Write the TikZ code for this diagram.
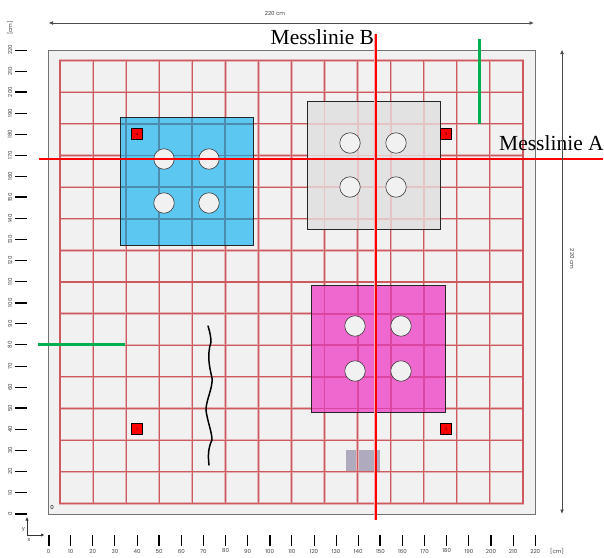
\documentclass[tikz,border=0pt]{standalone}
\usepackage{fontspec}
\setmainfont{Liberation Serif}
\newfontfamily\tick{Poppins}
\usetikzlibrary{arrows.meta}
\definecolor{gridred}{RGB}{204,90,95}
\definecolor{gridhalo}{RGB}{228,178,180}
\definecolor{plate}{RGB}{241,241,241}
\definecolor{bluep}{RGB}{92,200,242}
\definecolor{grayp}{RGB}{226,226,226}
\definecolor{pinkp}{RGB}{238,104,208}
\definecolor{greenl}{RGB}{0,176,80}
\definecolor{gridblue}{RGB}{76,140,175}
\definecolor{gridgray}{RGB}{228,196,196}
\definecolor{gridpink}{RGB}{220,70,160}
\definecolor{patchc}{RGB}{176,170,190}
\definecolor{redhalo}{RGB}{255,170,170}
\newcommand{\gridlines}[2]{%
  \foreach \i in {0,...,14}{
    \fill[#1] ({60+33.07*\i-#2},60) rectangle ({60+33.07*\i+#2},504);
    \fill[#1] (59.3,{60.5+31.64*\i-#2}) rectangle (523.7,{60.5+31.64*\i+#2});
  }}
\tikzset{
 platebox/.style={draw=black!85,line width=.8pt},
 hole/.style={circle,draw=black!75,fill=plate,line width=.6pt,minimum size=20.5pt,inner sep=0},
 marker/.style={rectangle,draw=black,fill=red,line width=.7pt,minimum size=11pt,inner sep=0,font=\fontsize{4}{4}\selectfont},
 greenline/.style={draw=greenl,line width=2.6pt},
 ticklabel/.style={font=\tick\fontsize{5.5}{6}\selectfont,text=black!75,inner sep=0},
 dim/.style={draw=black!70,line width=.9pt,{Latex[length=4.5pt,width=4pt]}-{Latex[length=4.5pt,width=4pt]}},
 mess/.style={font=\fontsize{21.5}{23}\selectfont,inner sep=0}
}
\begin{document}
\begin{tikzpicture}[x=1pt,y=-1pt]
\useasboundingbox (0,0) rectangle (604,557);
% plate
\path[fill=plate,draw=black!55,line width=1pt] (48.5,50) rectangle (535,514);
\fill[patchc] (346,450) rectangle (380,472);
\gridlines{gridhalo}{1.2}
\gridlines{gridred}{0.55}
% coloured plates
\fill[bluep] (120,117.5) rectangle (253,245);
\fill[grayp] (307,101) rectangle (440,229);
\fill[pinkp] (311,285) rectangle (445,412);
\begin{scope}
  \clip (120,117.5) rectangle (253,245);
  \gridlines{gridblue}{0.9}
\end{scope}
\begin{scope}
  \clip (307,101) rectangle (440,229);
  \gridlines{gridgray}{0.9}
\end{scope}
\begin{scope}
  \clip (311,285) rectangle (445,412);
  \gridlines{gridpink}{0.9}
\end{scope}
\draw[platebox] (120,117.5) rectangle (253,245);
\draw[platebox] (307,101) rectangle (440,229);
\draw[platebox] (311,285) rectangle (445,412);
% holes
\foreach \n/\a/\b in {b1/164/159,b2/209/159,b3/164/203,b4/209/203,
  g1/350/143,g2/396/143,g3/350/187,g4/396/187,
  p1/355/326,p2/401/326,p3/355/371,p4/401/371}
  \node[hole] (\n) at (\a,\b) {};
% markers
\node[marker] (m4) at (137,134) {4};
\node[marker] (m3) at (446,134) {3};
\node[marker] (m1) at (137,429) {1};
\node[marker] (m2) at (446,429) {2};
\node[ticklabel,text=black] (zero) at (52,507) {0};
% crack
\draw[black,line width=1.5pt,line cap=round] (208,326) .. controls (210,332) and (211,338) .. (211,342)
 .. controls (207,355) and (209,365) .. (212,378) .. controls (213,388) and (206,400) .. (206,410)
 .. controls (207,420) and (212,432) .. (212,440) .. controls (208,448) and (208,456) .. (209,465);
% measuring lines
\fill[redhalo] (39,157.7) rectangle (603,160.3);
\fill[red] (39,158.3) rectangle (603,159.7);
\fill[redhalo] (374,34) rectangle (377,520);
\fill[red] (374.5,34) rectangle (376.5,520);
\draw[greenline] (479.5,39) -- (479.5,124);
\draw[greenline] (38,344.5) -- (125,344.5);
\node[mess,anchor=base west] (mb) at (270.5,44) {Messlinie B};
\node[mess,anchor=base west] (ma) at (499,150) {Messlinie A};
% dimensions
\draw[dim] (48.5,23) -- (534,23);
\node[ticklabel] (dt) at (275,13.5) {220 cm};
\draw[dim] (562,49.5) -- (562,514);
\node[ticklabel,rotate=-90] (dr) at (572,259) {220 cm};
% ticks
\foreach \v in {0,10,...,220}{
  \pgfmathtruncatemacro{\m}{mod(\v,50)}
  \pgfmathsetmacro{\w}{\m==0?2:0.9}
  \pgfmathsetmacro{\px}{48.5+2.2125*\v}
  \pgfmathsetmacro{\py}{513.5-2.107*\v}
  \fill[black] ({\px-\w/2},535) rectangle ({\px+\w/2},546);
  \node[ticklabel] at (\px,551) {\v};
  \fill[black] (15,{\py-\w/2}) rectangle (27,{\py+\w/2});
  \node[ticklabel,rotate=90] at (10,\py) {\v};
}
\node[ticklabel] (cx) at (557,551) {[cm]};
\node[ticklabel,rotate=90] (cy) at (10,28) {[cm]};
% axes
\coordinate (o) at (27,535);
\draw[black!80,line width=.8pt,-{Latex[length=3.5pt,width=3.5pt]}] (o) -- (27,517);
\draw[black!80,line width=.8pt,-{Latex[length=3.5pt,width=3.5pt]}] (o) -- (44.5,535);
\node[ticklabel] (ax) at (29,540) {x};
\node[ticklabel] (ay) at (23.5,530) {y};
\end{tikzpicture}
\end{document}
